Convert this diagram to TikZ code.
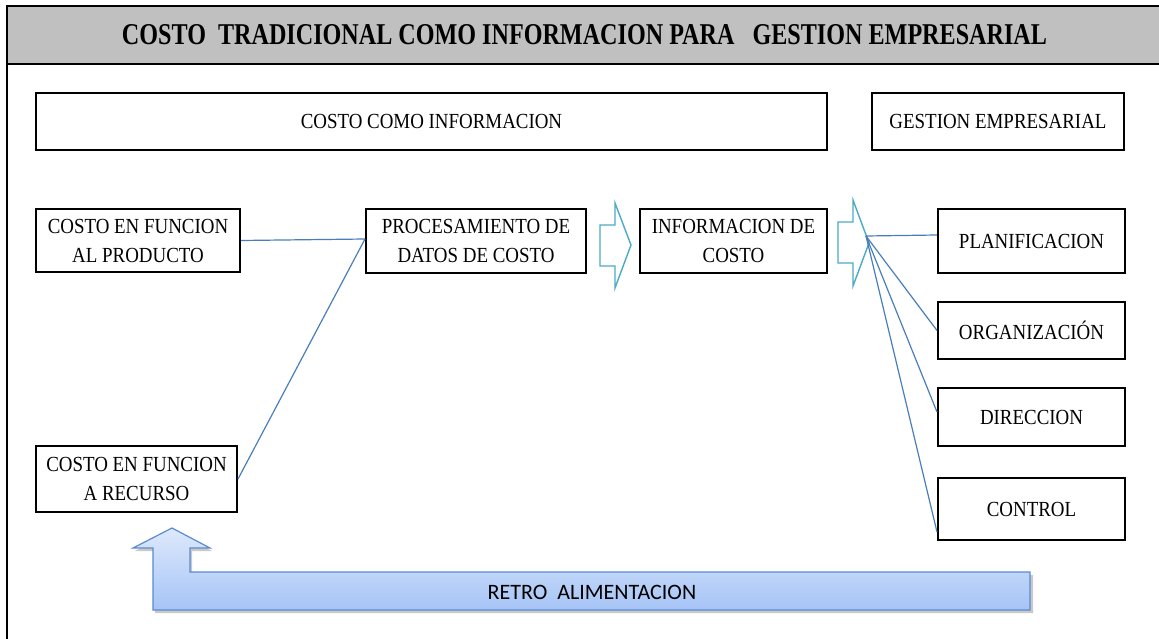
\documentclass[tikz,border=0pt]{standalone}
\usepackage{fontspec}
\usepackage{graphicx}
\newfontfamily\tnr{Liberation Serif}[FakeStretch=0.88]
\newfontfamily\calib{Carlito}
\usetikzlibrary{positioning}
\definecolor{conn}{HTML}{4A7EBB}
\definecolor{barrow}{HTML}{4BACC6}
\definecolor{band}{HTML}{C0C0C0}
\definecolor{fbord}{HTML}{5A8AD0}
\definecolor{ftop}{HTML}{DDE9FC}
\definecolor{fbot}{HTML}{A6C4F6}
\tikzset{
  box/.style={draw=black, line width=2pt, fill=white, inner sep=0pt, align=center,
    font=\tnr\fontsize{21.5}{29}\selectfont},
  link/.style={draw=conn, line width=1.2pt},
  blockarrow/.style={draw=barrow, line width=1.4pt, fill=white, line join=miter},
}
\begin{document}
\begin{tikzpicture}[x=1pt,y=-1pt]
\useasboundingbox (0,0) rectangle (1159,639);
\fill[white] (0,0) rectangle (1159,639);
% frame and title band
\fill[band] (7,6) rectangle (1165,64);
\draw[line width=2.2pt] (1165,6) -- (7,6) -- (7,645);
\draw[line width=2.2pt] (7,64) -- (1165,64);
\node (title) at (584.5,35) {\resizebox{925pt}{20pt}{\tnr\bfseries COSTO\ \ TRADICIONAL COMO INFORMACION PARA\ \ \ GESTION EMPRESARIAL}};

% header boxes
\node[box, minimum width=791pt, minimum height=57pt] (info) at (431.5,121.5) {COSTO COMO INFORMACION};
\node[box, minimum width=252pt, minimum height=57pt] (gest) at (998,121.5) {GESTION EMPRESARIAL};

% main boxes
\node[box, minimum width=204pt, minimum height=63pt] (prod) at (138,240.5) {COSTO EN FUNCION\\AL PRODUCTO};
\node[box, minimum width=220pt, minimum height=64pt] (proc) at (476,241) {PROCESAMIENTO DE\\DATOS DE COSTO};
\node[box, minimum width=187pt, minimum height=64pt] (icost) at (733.5,241) {INFORMACION DE\\COSTO};
\node[box, minimum width=201pt, minimum height=66pt] (rec) at (136.5,479) {COSTO EN FUNCION\\A RECURSO};

\node[box, minimum width=187pt, minimum height=64pt] (plan) at (1031.5,241) {PLANIFICACION};
\node[box, minimum width=187pt, minimum height=57pt] (org) at (1031.5,330.5) {ORGANIZACIÓN};
\node[box, minimum width=187pt, minimum height=58pt] (dir) at (1031.5,417) {DIRECCION};
\node[box, minimum width=187pt, minimum height=62pt] (ctrl) at (1031.5,509) {CONTROL};

% block arrows
\draw[blockarrow] (600,225) -- (615,225) -- (615,203) -- (631,245) -- (615,288) -- (615,266) -- (600,266) -- cycle;
\draw[blockarrow] (838,222) -- (853,222) -- (853,200) -- (869,243) -- (853,286) -- (853,263) -- (838,263) -- cycle;
\coordinate (fan) at (866,236);

% connectors
\draw[link] (prod.east) -- ([yshift=2pt]proc.west);
\draw[link] (rec.east) -- ([yshift=2pt]proc.west);
\draw[link] (fan) -- ([yshift=6pt]plan.west);
\draw[link] (fan) -- (org.west);
\draw[link] (fan) -- ([yshift=5pt]dir.west);
\draw[link] (fan) -- ([yshift=-23pt]ctrl.west);

% feedback arrow
\fill[black!35, opacity=0.6] (174,531) -- (212,551) -- (192,551) -- (192,575) -- (1033,575) -- (1033,613) -- (155,613) -- (155,551) -- (135,551) -- cycle;
\draw[fbord, line width=1.2pt, top color=ftop, bottom color=fbot] (172,528) -- (210,548) -- (190,548) -- (190,572) -- (1030,572) -- (1030,610) -- (153,610) -- (153,548) -- (133,548) -- cycle;
\node[font=\calib\fontsize{22}{26}\selectfont] (retro) at (592,592) {RETRO\ \ ALIMENTACION};
\end{tikzpicture}
\end{document}
